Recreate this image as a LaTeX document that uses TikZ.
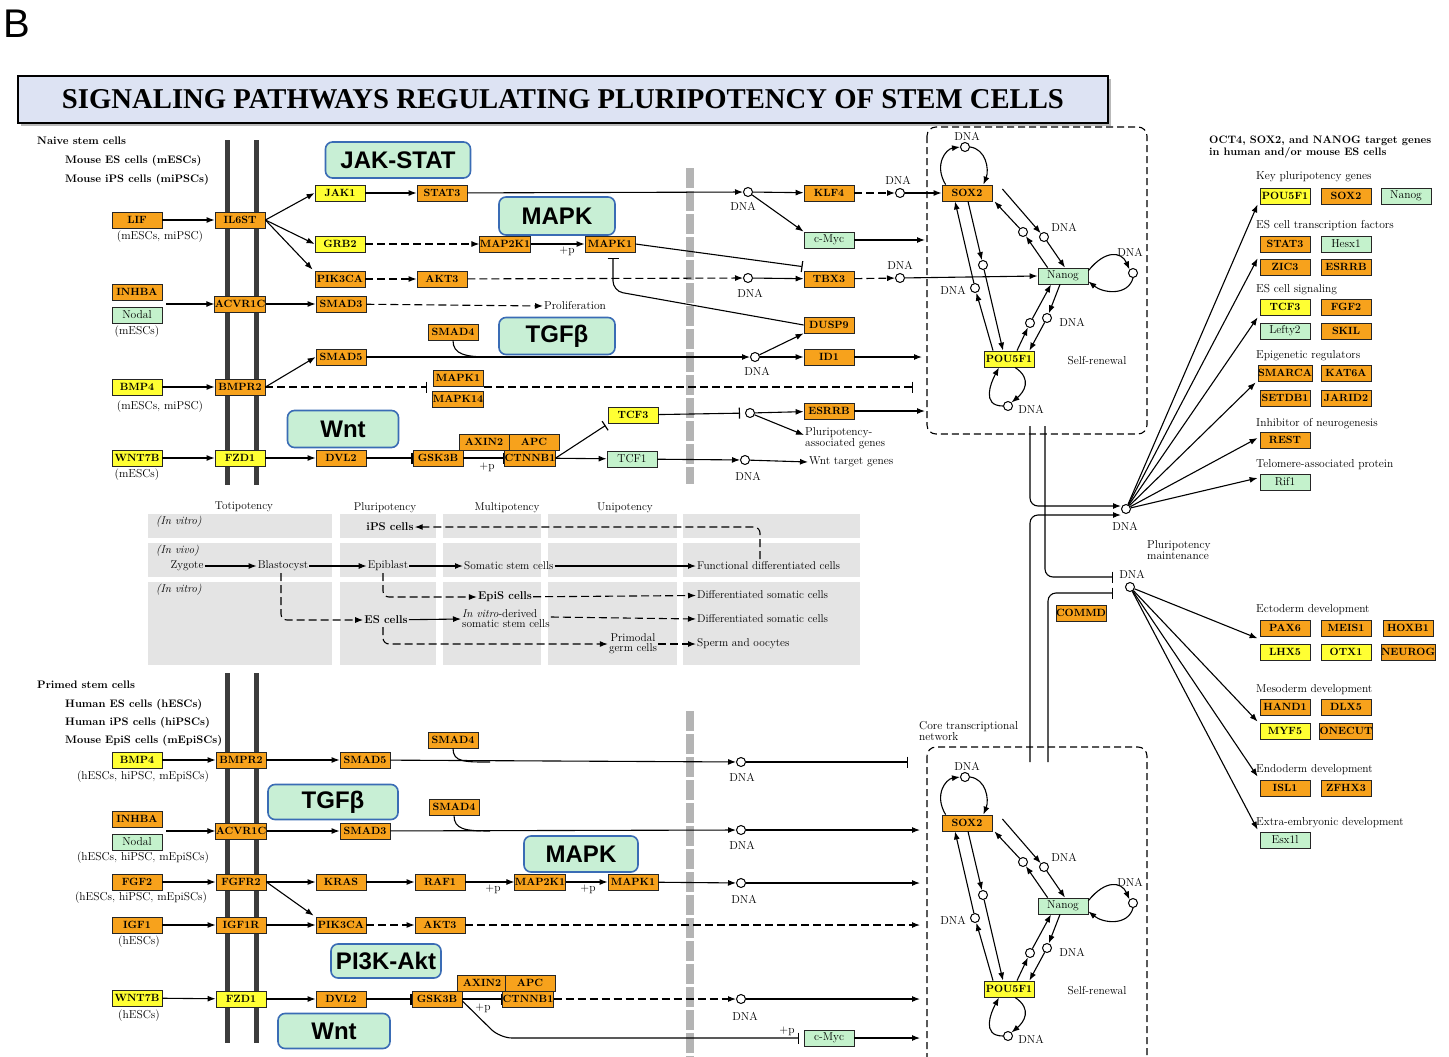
\documentclass[tikz,border=0pt]{standalone}
\usepackage{fontspec}
\setsansfont{Liberation Sans}
\newfontfamily\timesf{Liberation Serif}
\usetikzlibrary{arrows.meta,calc}
\definecolor{cOrange}{HTML}{F7A21C}
\definecolor{cYellow}{HTML}{FFFF33}
\definecolor{cGreen}{HTML}{C4F2CC}
\definecolor{cPath}{HTML}{C8EFD5}
\definecolor{cPathB}{HTML}{3A6CB5}
\definecolor{cTitle}{HTML}{DDE3F3}
\definecolor{cBlock}{HTML}{E4E4E4}
\definecolor{cMem}{HTML}{3C3C3C}
\definecolor{cBar}{HTML}{B4B4B4}
\newcommand\genefont{\fontsize{10.5}{11}\selectfont\bfseries}
\newcommand\genefontr{\fontsize{11.5}{12}\selectfont}
\newcommand\lblfont{\fontsize{11.5}{12}\selectfont}
\newcommand\hdfont{\fontsize{10.9}{11.5}\selectfont\bfseries}
\newcommand\midfont{\fontsize{11.3}{10}\selectfont}
\tikzset{
 gbox/.style={draw=black!85, line width=0.8pt, minimum width=50pt, minimum height=16pt, inner sep=0pt, font=\genefont},
 og/.style={gbox, fill=cOrange},
 yl/.style={gbox, fill=cYellow},
 gn/.style={gbox, fill=cGreen, font=\genefontr},
 dna/.style={circle, draw, fill=white, line width=1pt, minimum size=9pt, inner sep=0pt},
 lbl/.style={font=\lblfont, inner sep=1pt},
 hd/.style={font=\hdfont, inner sep=1pt, anchor=west},
 pw/.style={draw=cPathB, line width=1.6pt, fill=cPath, rounded corners=7pt, font=\sffamily\bfseries\fontsize{24}{24}\selectfont, inner sep=0pt},
 arr/.style={-{Latex[length=8pt,width=6pt]}, line width=1.1pt},
 inh/.style={-{Bar[width=11pt,line width=1.2pt]}, line width=1.1pt},
 dsh/.style={dash pattern=on 8pt off 4pt},
 mem/.style={draw=cMem, line width=5pt},
 gbar/.style={draw=cBar, line width=8pt, dash pattern=on 20pt off 3pt},
 blk/.style={fill=cBlock, draw=none},
 bx/.style={draw=black, line width=1.1pt, dash pattern=on 7pt off 4pt, rounded corners=9pt},
}
\newcommand\corenet[2]{%
\begin{scope}[shift={(0,#2)}]
 \node[og] (#1sox) at (967,193) {SOX2};
 \node[gn] (#1nan) at (1063,276) {Nanog};
 \node[yl] (#1pou) at (1009,359) {POU5F1};
 \node[dna] (#1c0) at (965,147) {};
 \node[dna] (#1c1) at (1023,232) {};
 \node[dna] (#1c2) at (1044,237) {};
 \node[dna] (#1c3) at (983,265) {};
 \node[dna] (#1c4) at (975,288) {};
 \node[dna] (#1c5) at (1030,323) {};
 \node[dna] (#1c6) at (1047,318) {};
 \node[dna] (#1c7) at (1133,273) {};
 \node[dna] (#1c8) at (1008,406) {};
 \node[lbl] (#1l0) at (967,136) {DNA};
 \node[lbl] (#1l2) at (1064,227) {DNA};
 \node[lbl] (#1l4) at (953,290) {DNA};
 \node[lbl] (#1l6) at (1072,322) {DNA};
 \node[lbl] (#1l7) at (1130,252) {DNA};
 \node[lbl] (#1l8) at (1031,409) {DNA};
 \node[lbl] (#1sr) at (1097,361) {Self-renewal};
 \draw[arr] ($(#1sox.north west)+(4,0)$) .. controls +(-12,-20) and +(-14,2) .. (#1c0.west);
 \draw[arr] (#1c0.east) .. controls +(16,2) and +(6,-15) .. ($(#1sox.north east)+(-9,0)$);
 \draw[arr] ($(#1sox.east)+(10,-4)$) -- (#1c2);
 \draw[arr] (#1c2) -- ($(#1nan.north)+(2,0)$);
 \draw[arr] ($(#1nan.north west)+(10,0)$) -- (#1c1);
 \draw[arr] (#1c1) -- ($(#1sox.south east)+(2,0)$);
 \draw[arr] ($(#1sox.south)+(1,0)$) -- (#1c3);
 \draw[arr] (#1c3) -- ($(#1pou.north)+(-6,0)$);
 \draw[arr] ($(#1pou.north)+(-16,0)$) -- (#1c4);
 \draw[arr] (#1c4) -- ($(#1sox.south)+(-12,0)$);
 \draw[arr] ($(#1nan.south)+(-3,0)$) -- (#1c6);
 \draw[arr] (#1c6) -- ($(#1pou.north east)+(-5,0)$);
 \draw[arr] ($(#1pou.north)+(8,0)$) -- (#1c5);
 \draw[arr] (#1c5) -- ($(#1nan.south)+(-12,0)$);
 \draw[arr] ($(#1nan.north east)+(0,3)$) .. controls +(17,-21) and +(-8,-18) .. (#1c7.north west);
 \draw[arr] (#1c7.south) .. controls +(-5,18) and +(15,12) .. ($(#1nan.south east)+(0,-3)$);
 \draw[arr] ($(#1pou.south)+(6,0)$) .. controls +(18,12) and +(12,-10) .. (#1c8.north east);
 \draw[arr] (#1c8.west) .. controls +(-22,0) and +(-8,15) .. ($(#1pou.south)+(-10,0)$);
\end{scope}}
\begin{document}
\begin{tikzpicture}[x=1pt,y=-1pt]
\useasboundingbox (0,0) rectangle (1449,1057);
\fill[white] (0,0) rectangle (1449,1057);
% ---------- title ----------
\node[anchor=west,inner sep=0pt,font=\sffamily\fontsize{40}{40}\selectfont] (blab) at (3,24) {B};
\fill[gray!55] (21,79) rectangle (1111,126);
\node[draw=black,line width=2pt,fill=cTitle,minimum width=1090pt,minimum height=47pt,inner sep=0pt,font=\timesf\bfseries\fontsize{28.7}{28.7}\selectfont] (title) at (563,99.5) {SIGNALING PATHWAYS REGULATING PLURIPOTENCY OF STEM CELLS};
% ---------- membranes and separators ----------
\draw[mem] (227,140) -- (227,485);
\draw[mem] (256,140) -- (256,485);
\draw[mem] (227,673) -- (227,1043);
\draw[mem] (256,673) -- (256,1043);
\draw[gbar] (690,168) -- (690,484);
\draw[gbar] (690,711) -- (690,1057);
% ---------- middle blocks ----------
\foreach \xa/\xb in {148/332,340/436,443/541,548/677,683/860}{
  \foreach \ya/\yb in {514/538,543/577,582/665}{
    \fill[blk] (\xa,\ya) rectangle (\xb,\yb);}}
% ---------- dashed boxes ----------
\draw[bx] (927,127) rectangle (1147,434);
\draw[bx] (927,747) rectangle (1147,1080);
% ---------- pathway labels ----------
\node[pw,minimum width=145pt,minimum height=36pt] (pjak) at (398,160) {JAK-STAT};
\node[pw,minimum width=116pt,minimum height=38pt] (pmapk) at (557,216) {MAPK};
\node[pw,minimum width=116pt,minimum height=37pt] (ptgf) at (557,336) {TGFβ};
\node[pw,minimum width=111pt,minimum height=37pt] (pwnt) at (343,429) {Wnt};
\node[pw,minimum width=130pt,minimum height=35pt] (ptgf2) at (333,802) {TGFβ};
\node[pw,minimum width=114pt,minimum height=36pt] (pmapk2) at (581,854) {MAPK};
\node[pw,minimum width=110pt,minimum height=34pt] (ppi3k) at (386,961) {PI3K-Akt};
\node[pw,minimum width=112pt,minimum height=35pt] (pwnt2) at (334,1031) {Wnt};
% ---------- top left labels ----------
\node[hd] (hn) at (36,141) {Naive stem cells};
\node[hd] (hm1) at (64,161) {Mouse ES cells (mESCs)};
\node[hd] (hm2) at (64,180) {Mouse iPS cells (miPSCs)};
% ---------- top panel genes ----------
\node[og] (lif) at (137,220) {LIF};
\node[lbl] (lifs) at (160,237) {(mESCs, miPSC)};
\node[og] (il6st) at (240,220) {IL6ST};
\node[yl] (jak1) at (340,193) {JAK1};
\node[og] (stat3) at (442,193) {STAT3};
\node[yl] (grb2) at (340,244) {GRB2};
\node[og] (pik) at (340,279) {PIK3CA};
\node[og] (akt) at (442,279) {AKT3};
\node[og] (inhba) at (137,292) {INHBA};
\node[gn] (nodal) at (137,315) {Nodal};
\node[lbl] (nods) at (137,332) {(mESCs)};
\node[og] (acvr) at (240,304) {ACVR1C};
\node[og] (smad3) at (341,304) {SMAD3};
\node[lbl,anchor=west] (prolif) at (543,306) {Proliferation};
\node[yl] (bmp4) at (137,387) {BMP4};
\node[lbl] (bmps) at (160,407) {(mESCs, miPSC)};
\node[og] (bmpr2) at (240,387) {BMPR2};
\node[og] (smad5) at (341,357) {SMAD5};
\node[og] (smad4) at (453,332) {SMAD4};
\node[og] (mapk1b) at (458,378) {MAPK1};
\node[og] (mapk14) at (458,399) {MAPK14};
\node[yl] (wnt7b) at (137,458) {WNT7B};
\node[lbl] (wnts) at (137,475) {(mESCs)};
\node[yl] (fzd1) at (240,458) {FZD1};
\node[og] (dvl2) at (341,458) {DVL2};
\node[og] (gsk) at (438,458) {GSK3B};
\node[og] (axin) at (484,442) {AXIN2};
\node[og] (apc) at (534,442) {APC};
\node[og] (ctnnb) at (530,458) {CTNNB1};
\node[yl] (tcf3) at (633,415) {TCF3};
\node[gn] (tcf1) at (632,459) {TCF1};
\node[og] (map2k) at (505,244) {MAP2K1};
\node[og] (mapk1) at (610,244) {MAPK1};
\node[og] (klf4) at (829,193) {KLF4};
\node[gn] (cmyc) at (829,240) {c-Myc};
\node[og] (tbx3) at (829,279) {TBX3};
\node[og] (dusp9) at (829,325) {DUSP9};
\node[og] (id1) at (829,357) {ID1};
\node[og] (esrrb) at (829,411) {ESRRB};
\node[dna] (d1) at (748,192) {};
\node[dna] (d2) at (900,193) {};
\node[dna] (d3) at (748,278) {};
\node[dna] (d4) at (900,278) {};
\node[dna] (d5) at (755,357) {};
\node[dna] (d6) at (750,413) {};
\node[dna] (d7) at (745,460) {};
\node[lbl] (ld1) at (743,206) {DNA};
\node[lbl] (ld2) at (898,180) {DNA};
\node[lbl] (ld3) at (750,293) {DNA};
\node[lbl] (ld4) at (900,265) {DNA};
\node[lbl] (ld5) at (757,371) {DNA};
\node[lbl] (ld7) at (748,476) {DNA};
\node[lbl,anchor=west,align=left,font=\fontsize{11.5}{9.5}\selectfont] (pag) at (804,438) {Pluripotency-\\associated genes};
\node[lbl,anchor=west] (wtg) at (808,462) {Wnt target genes};
\node[lbl] (p1) at (567,251) {+p};
\node[lbl] (p2) at (487,467) {+p};
\coordinate (an1) at (166,304);
\coordinate (j1) at (490,357);
\coordinate (mb1) at (427,387);
\coordinate (mb2) at (484,387);
\coordinate (mb3) at (913,387);
\coordinate (mk1i) at (613,258);
\coordinate (e1x) at (925,240);
\coordinate (e2x) at (922,357);
\coordinate (e3x) at (925,411);
% top panel edges
\draw[arr] (lif) -- (il6st);
\draw[arr] (il6st.east) -- (jak1.west);
\draw[arr] (il6st.east) -- (grb2.west);
\draw[arr] (il6st.east) -- ($(pik.north west)+(-2,-1)$);
\draw[arr] (jak1) -- (stat3);
\draw[arr] (stat3) -- (d1);
\draw[arr] (d1) -- (klf4);
\draw[arr] (d1) -- (cmyc.north west);
\draw[arr,dsh] (klf4) -- (d2);
\draw[arr] (cmyc) -- (e1x);
\draw[arr,dsh] (grb2) -- (map2k);
\draw[arr] (map2k) -- (mapk1);
\draw[inh] (mapk1.east) -- ($(tbx3.north west)+(-1,-4)$);
\draw[arr,dsh] (pik) -- (akt);
\draw[arr,dsh] (akt) -- (d3);
\draw[arr] (d3) -- (tbx3);
\draw[arr,dsh] (tbx3) -- (d4);
\draw[arr] (an1) -- (acvr);
\draw[arr] (acvr) -- (smad3);
\draw[arr,dsh] (smad3) -- (prolif.west);
\draw[arr] (bmp4) -- (bmpr2);
\draw[arr] (bmpr2.east) -- (smad5.west);
\draw[inh,dsh] (bmpr2) -- (mb1);
\draw[inh,dsh] (mb2) -- (mb3);
\draw[arr] (smad5) -- (d5);
\draw[line width=1.1pt] (smad4.south) .. controls +(0,14) and +(-25,0) .. (j1);
\draw[arr] (d5) -- (id1);
\draw[arr] (d5) -- (dusp9.south west);
\draw[arr] (id1) -- (e2x);
\draw[inh,rounded corners=10pt] (dusp9.west) -- (613,291) -- (mk1i);
\draw[arr] (wnt7b) -- (fzd1);
\draw[arr] (fzd1) -- (dvl2);
\draw[inh] (dvl2) -- (gsk);
\draw[inh] (gsk) -- (ctnnb);
\draw[inh] (ctnnb.east) -- ($(tcf3.south west)+(-2,2)$);
\draw[arr] (ctnnb) -- (tcf1);
\draw[inh,shorten >=5pt] (tcf3) -- (d6);
\draw[arr] (d6) -- (esrrb);
\draw[arr] (d6) -- ($(pag.west)+(0,-3)$);
\draw[arr] (esrrb) -- (e3x);
\draw[arr] (tcf1) -- (d7);
\draw[arr] (d7) -- (wtg.west);
% ---------- core networks ----------
\corenet{t}{0}
\corenet{b}{630}
\draw[arr] (d2) -- (tsox.west);
\draw[arr] (d4) -- (tnan.west);
% ---------- links between boxes ----------
\node[dna] (pm) at (1126,509) {};
\node[lbl] (lpm) at (1125,526) {DNA};
\node[dna] (pm2) at (1130,587) {};
\node[lbl] (lpm2) at (1132,574) {DNA};
\node[lbl,anchor=west,align=left,font=\fontsize{11.5}{9.5}\selectfont] (plm) at (1146,550) {Pluripotency\\maintenance};
\node[og] (commd) at (1081,613) {COMMD};
\node[lbl,anchor=west,align=left,font=\fontsize{11.5}{9.5}\selectfont] (ctn) at (918,731) {Core transcriptional\\network};
\coordinate (v1) at (1030,426);
\coordinate (v2) at (1045,426);
\coordinate (v3) at (1030,762);
\coordinate (v4) at (1048,762);
\coordinate (bar1) at (1113,577);
\coordinate (bar2) at (1113,593);
\draw[arr,rounded corners=8pt] (v1) |- ($(pm.west)+(0,-3)$);
\draw[arr,rounded corners=8pt] (v3) |- ($(pm.west)+(0,6)$);
\draw[inh,rounded corners=8pt] (v2) |- (bar1);
\draw[inh,rounded corners=8pt] (v4) |- (bar2);
% ---------- right gene lists ----------
\node[hd,align=left,font=\fontsize{10.8}{9.5}\selectfont\bfseries] (octh) at (1208,147) {OCT4, SOX2, and NANOG target genes\\in human and/or mouse ES cells};
\node[lbl,anchor=west] (k1) at (1255,177) {Key pluripotency genes};
\node[lbl,anchor=west] (k2) at (1255,226) {ES cell transcription factors};
\node[lbl,anchor=west] (k3) at (1255,290) {ES cell signaling};
\node[lbl,anchor=west] (k4) at (1255,356) {Epigenetic regulators};
\node[lbl,anchor=west] (k5) at (1255,424) {Inhibitor of neurogenesis};
\node[lbl,anchor=west] (k6) at (1255,465) {Telomere-associated protein};
\node[lbl,anchor=west] (k7) at (1255,610) {Ectoderm development};
\node[lbl,anchor=west] (k8) at (1255,690) {Mesoderm development};
\node[lbl,anchor=west] (k9) at (1255,770) {Endoderm development};
\node[lbl,anchor=west] (k10) at (1255,823) {Extra-embryonic development};
\node[yl] (rpou) at (1285,196) {POU5F1};
\node[og] (rsox) at (1346,196) {SOX2};
\node[gn] (rnan) at (1406,196) {Nanog};
\node[og] (rstat) at (1285,244) {STAT3};
\node[gn] (rhesx) at (1346,244) {Hesx1};
\node[og] (rzic) at (1285,267) {ZIC3};
\node[og] (resrrb) at (1346,267) {ESRRB};
\node[yl] (rtcf) at (1285,307) {TCF3};
\node[og] (rfgf) at (1346,307) {FGF2};
\node[gn] (rlefty) at (1285,331) {Lefty2};
\node[og] (rskil) at (1346,331) {SKIL};
\node[og] (rsmarca) at (1285,373) {SMARCA};
\node[og] (rkat) at (1346,373) {KAT6A};
\node[og] (rsetdb) at (1285,398) {SETDB1};
\node[og] (rjarid) at (1346,398) {JARID2};
\node[og] (rrest) at (1285,440) {REST};
\node[gn] (rrif) at (1285,482) {Rif1};
\node[og] (rpax) at (1285,628) {PAX6};
\node[og] (rmeis) at (1346,628) {MEIS1};
\node[og] (rhoxb) at (1408,628) {HOXB1};
\node[yl] (rlhx) at (1285,652) {LHX5};
\node[yl] (rotx) at (1346,652) {OTX1};
\node[og] (rneuro) at (1408,652) {NEUROG};
\node[og] (rhand) at (1285,707) {HAND1};
\node[og] (rdlx) at (1346,707) {DLX5};
\node[yl] (rmyf) at (1285,731) {MYF5};
\node[og] (ronecut) at (1346,731) {ONECUT};
\node[og] (risl) at (1285,788) {ISL1};
\node[og] (rzfhx) at (1346,788) {ZFHX3};
\node[gn] (resx) at (1285,840) {Esx1l};
\draw[arr] (pm) -- ($(rpou.south west)+(-2,0)$);
\draw[arr] (pm) -- ($(rstat.south west)+(-2,6)$);
\draw[arr] (pm) -- ($(rtcf.south west)+(-2,2)$);
\draw[arr] (pm) -- ($(rsmarca.south west)+(-2,1)$);
\draw[arr] (pm) -- ($(rrest.west)+(-2,-2)$);
\draw[arr] (pm) -- ($(rrif.west)+(-2,-4)$);
\draw[arr] (pm2) -- ($(rpax.south west)+(-2,2)$);
\draw[arr] (pm2) -- ($(rmyf.north west)+(-2,-1)$);
\draw[arr] (pm2) -- ($(risl.north west)+(-2,-3)$);
\draw[arr] (pm2) -- ($(resx.north west)+(-2,-2)$);
% ---------- middle developmental panel ----------
\begin{scope}[every node/.style={font=\midfont, inner sep=1pt}]
\node (tot) at (244,507) {Totipotency};
\node (plu) at (385,508) {Pluripotency};
\node (mul) at (507,508) {Multipotency};
\node (uni) at (625,508) {Unipotency};
\node[anchor=west,font=\midfont\itshape] (iv1) at (155,522) {(In vitro)};
\node[anchor=west,font=\midfont\itshape] (iv2) at (155,551) {(In vivo)};
\node[anchor=west,font=\midfont\itshape] (iv3) at (155,590) {(In vitro)};
\node[font=\midfont\bfseries] (ips) at (390,527) {iPS cells};
\node (zyg) at (187,566) {Zygote};
\node (blast) at (283,566) {Blastocyst};
\node (epi) at (388,566) {Epiblast};
\node[anchor=west] (som) at (463,566) {Somatic stem cells};
\node[anchor=west] (func) at (696,566) {Functional differentiated cells};
\node[font=\midfont\bfseries] (epis) at (505,597) {EpiS cells};
\node[anchor=west] (diff1) at (696,595) {Differentiated somatic cells};
\node[font=\midfont\bfseries] (es) at (386,620) {ES cells};
\node[anchor=west,align=left] (ivd) at (461,619) {\textit{In vitro}-derived\\somatic stem cells};
\node[anchor=west] (diff2) at (696,619) {Differentiated somatic cells};
\node[align=center] (pgc) at (633,644) {Primodal\\germ cells};
\node[anchor=west] (sperm) at (696,644) {Sperm and oocytes};
\end{scope}
\coordinate (fu) at (760,559);
\coordinate (ep) at (383,573);
\coordinate (bl) at (281,573);
\coordinate (esd) at (383,627);
\draw[arr] (zyg) -- (blast);
\draw[arr] (blast) -- (epi);
\draw[arr] (epi) -- (som);
\draw[arr] (som) -- (func);
\draw[arr,dsh,rounded corners=6pt] (fu) |- (ips.east);
\draw[arr,dsh,rounded corners=6pt] (ep) |- (epis.west);
\draw[arr,dsh] (epis) -- (diff1);
\draw[arr,dsh,rounded corners=6pt] (bl) |- (es.west);
\draw[arr] (es) -- (ivd.west);
\draw[arr,dsh] ($(ivd.east)+(0,-2)$) -- (diff2.west);
\draw[arr,dsh,rounded corners=6pt] (esd) |- (pgc.west);
\draw[arr,dsh] (pgc) -- (sperm);
% ---------- bottom left labels ----------
\node[hd] (hp) at (36,685) {Primed stem cells};
\node[hd] (hh1) at (64,705) {Human ES cells (hESCs)};
\node[hd] (hh2) at (64,723) {Human iPS cells (hiPSCs)};
\node[hd] (hh3) at (64,741) {Mouse EpiS cells (mEpiSCs)};
% ---------- bottom panel genes ----------
\node[yl] (bbmp4) at (137,760) {BMP4};
\node[lbl] (bbs) at (143,777) {(hESCs, hiPSC, mEpiSCs)};
\node[og] (bbmpr2) at (241,760) {BMPR2};
\node[og] (bsmad5) at (365,760) {SMAD5};
\node[og] (bsmad4a) at (453,740) {SMAD4};
\node[og] (binhba) at (137,819) {INHBA};
\node[gn] (bnodal) at (137,842) {Nodal};
\node[lbl] (bns) at (143,858) {(hESCs, hiPSC, mEpiSCs)};
\node[og] (bacvr) at (241,831) {ACVR1C};
\node[og] (bsmad3) at (365,831) {SMAD3};
\node[og] (bsmad4b) at (454,807) {SMAD4};
\node[og] (bfgf2) at (137,882) {FGF2};
\node[lbl] (bfs) at (141,898) {(hESCs, hiPSC, mEpiSCs)};
\node[og] (bfgfr2) at (241,882) {FGFR2};
\node[og] (bkras) at (341,882) {KRAS};
\node[og] (braf) at (440,882) {RAF1};
\node[og] (bmap2k) at (540,882) {MAP2K1};
\node[og] (bmapk1) at (633,882) {MAPK1};
\node[og] (bigf1) at (137,925) {IGF1};
\node[lbl] (bis) at (139,942) {(hESCs)};
\node[og] (bigf1r) at (241,925) {IGF1R};
\node[og] (bpik) at (341,925) {PIK3CA};
\node[og] (bakt) at (440,925) {AKT3};
\node[yl] (bwnt7b) at (137,998) {WNT7B};
\node[lbl] (bws) at (139,1016) {(hESCs)};
\node[yl] (bfzd1) at (241,999) {FZD1};
\node[og] (bdvl2) at (341,999) {DVL2};
\node[og] (bgsk) at (437,999) {GSK3B};
\node[og] (baxin) at (482,983) {AXIN2};
\node[og] (bapc) at (530,983) {APC};
\node[og] (bctnnb) at (528,999) {CTNNB1};
\node[gn] (bcmyc) at (829,1038) {c-Myc};
\node[dna] (e1) at (741,762) {};
\node[dna] (e2) at (741,830) {};
\node[dna] (e3) at (741,883) {};
\node[dna] (e4) at (741,999) {};
\node[lbl] (le1) at (742,777) {DNA};
\node[lbl] (le2) at (742,845) {DNA};
\node[lbl] (le3) at (744,899) {DNA};
\node[lbl] (le4) at (745,1016) {DNA};
\node[lbl] (bp1) at (493,889) {+p};
\node[lbl] (bp2) at (588,889) {+p};
\node[lbl] (bp3) at (483,1008) {+p};
\node[lbl] (bp4) at (787,1031) {+p};
\coordinate (an2) at (166,831);
\coordinate (j2) at (490,762);
\coordinate (j3) at (490,831);
\coordinate (x1) at (908,762);
\coordinate (x2) at (920,830);
\coordinate (x3) at (920,883);
\coordinate (x4) at (920,925);
\coordinate (x5) at (920,999);
\coordinate (x6) at (920,1038);
\coordinate (cb) at (799,1038);
\draw[arr] (bbmp4) -- (bbmpr2);
\draw[arr] (bbmpr2) -- (bsmad5);
\draw[arr] (bsmad5) -- (e1);
\draw[line width=1.1pt] (bsmad4a.south) .. controls +(0,14) and +(-25,0) .. (j2);
\draw[inh] (e1) -- (x1);
\draw[arr] (an2) -- (bacvr);
\draw[arr] (bacvr) -- (bsmad3);
\draw[arr] (bsmad3) -- (e2);
\draw[line width=1.1pt] (bsmad4b.south) .. controls +(0,14) and +(-25,0) .. (j3);
\draw[arr] (e2) -- (x2);
\draw[arr] (bfgf2) -- (bfgfr2);
\draw[arr] (bfgfr2) -- (bkras);
\draw[arr] (bkras) -- (braf);
\draw[arr] (braf) -- (bmap2k);
\draw[arr] (bmap2k) -- (bmapk1);
\draw[arr] (bmapk1) -- (e3);
\draw[arr] (e3) -- (x3);
\draw[arr] (bfgfr2.east) -- ($(bpik.north west)+(-2,-1)$);
\draw[arr] (bigf1) -- (bigf1r);
\draw[arr] (bigf1r) -- (bpik);
\draw[arr,dsh] (bpik) -- (bakt);
\draw[arr,dsh] (bakt) -- (x4);
\draw[arr] (bwnt7b) -- (bfzd1);
\draw[arr] (bfzd1) -- (bdvl2);
\draw[inh] (bdvl2) -- (bgsk);
\draw[inh] (bgsk) -- (bctnnb);
\draw[arr,dsh] (bctnnb) -- (e4);
\draw[arr] (e4) -- (x5);
\draw[inh,rounded corners=12pt] ($(bgsk.east)+(0,2)$) -- (500,1038) -- (cb);
\draw[arr] (bcmyc) -- (x6);
\end{tikzpicture}
\end{document}
